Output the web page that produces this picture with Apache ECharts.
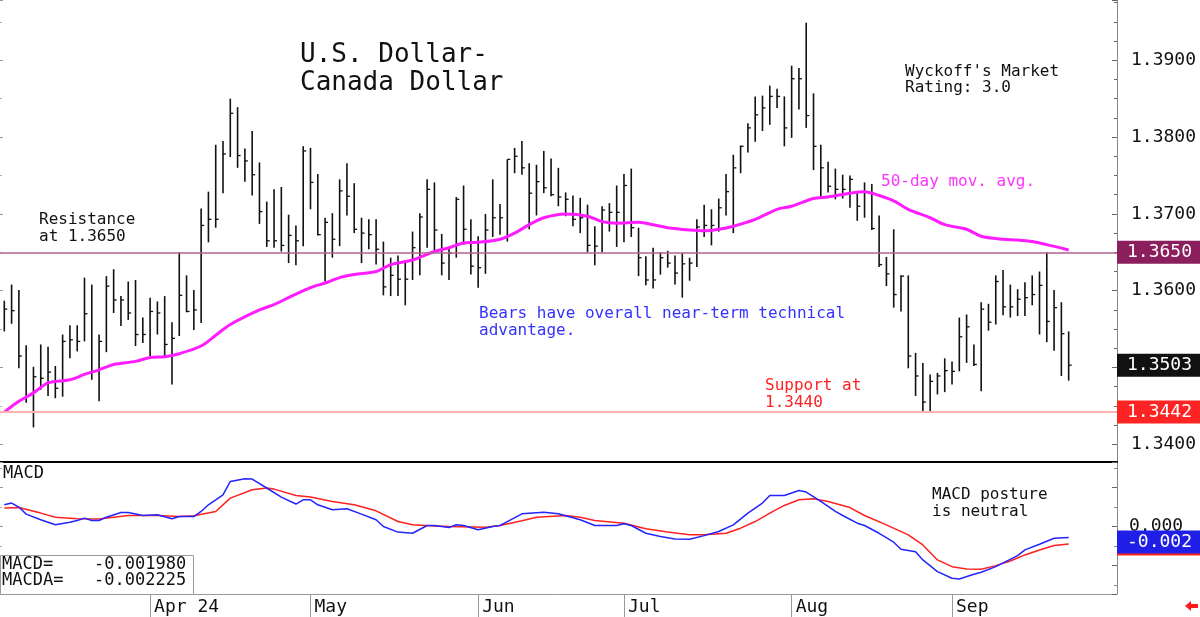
<!DOCTYPE html>
<html>
<head>
<meta charset="utf-8">
<script src="https://cdn.jsdelivr.net/npm/echarts@6/dist/echarts.min.js"></script>
<style>
  html, body { margin: 0; padding: 0; background: #fff; }
  #chart { width: 1200px; height: 617px; }
</style>
</head>
<body>
<div id="chart"></div>
<script>
// daily bars, Mar 4 .. Sep 24 (index 0..146)
var highs = [1.3587,1.3608,1.3601,1.3529,1.3501,1.3530,1.3527,1.3502,1.3543,1.3555,
  1.3555,1.3617,1.3608,1.3543,1.3619,1.3628,1.3593,1.3612,1.3614,1.3565,
  1.3591,1.3586,1.3593,1.3559,1.3650,1.3620,1.3601,1.3707,1.3729,1.3790,
  1.3795,1.3850,1.3839,1.3785,1.3808,1.3767,1.3716,1.3732,1.3735,1.3699,
  1.3685,1.3788,1.3786,1.3752,1.3695,1.3701,1.3745,1.3766,1.3740,1.3695,
  1.3693,1.3693,1.3664,1.3643,1.3646,1.3638,1.3677,1.3701,1.3745,1.3741,
  1.3674,1.3656,1.3722,1.3737,1.3693,1.3671,1.3700,1.3745,1.3713,1.3771,
  1.3786,1.3795,1.3766,1.3764,1.3782,1.3772,1.3760,1.3728,1.3724,1.3721,
  1.3712,1.3684,1.3710,1.3714,1.3737,1.3752,1.3759,1.3682,1.3645,1.3656,
  1.3650,1.3652,1.3646,1.3649,1.3643,1.3693,1.3712,1.3706,1.3720,1.3752,
  1.3777,1.3789,1.3818,1.3853,1.3854,1.3867,1.3863,1.3853,1.3893,1.3890,
  1.3949,1.3857,1.3790,1.3768,1.3759,1.3751,1.3750,1.3729,1.3741,1.3739,
  1.3698,1.3644,1.3680,1.3620,1.3620,1.3519,1.3506,1.3491,1.3493,1.3512,
  1.3508,1.3565,1.3569,1.3530,1.3585,1.3583,1.3620,1.3627,1.3608,1.3602,
  1.3611,1.3620,1.3625,1.3650,1.3601,1.3585,1.3547];
var lows = [1.3547,1.3557,1.3499,1.3454,1.3422,1.3471,1.3463,1.3460,1.3462,1.3512,
  1.3521,1.3534,1.3484,1.3456,1.3520,1.3571,1.3554,1.3562,1.3528,1.3532,
  1.3515,1.3543,1.3514,1.3478,1.3541,1.3572,1.3549,1.3558,1.3663,1.3682,
  1.3727,1.3774,1.3760,1.3742,1.3724,1.3687,1.3657,1.3656,1.3651,1.3636,
  1.3633,1.3658,1.3706,1.3672,1.3612,1.3643,1.3658,1.3698,1.3675,1.3636,
  1.3654,1.3634,1.3594,1.3593,1.3593,1.3581,1.3614,1.3620,1.3656,1.3651,
  1.3620,1.3614,1.3643,1.3660,1.3621,1.3604,1.3622,1.3670,1.3673,1.3664,
  1.3753,1.3751,1.3680,1.3698,1.3727,1.3723,1.3710,1.3697,1.3684,1.3675,
  1.3650,1.3633,1.3650,1.3677,1.3657,1.3663,1.3670,1.3619,1.3607,1.3603,
  1.3621,1.3630,1.3608,1.3591,1.3613,1.3631,1.3670,1.3659,1.3677,1.3698,
  1.3675,1.3753,1.3780,1.3794,1.3808,1.3816,1.3838,1.3788,1.3799,1.3836,
  1.3812,1.3757,1.3722,1.3728,1.3719,1.3720,1.3708,1.3691,1.3695,1.3679,
  1.3631,1.3606,1.3578,1.3573,1.3499,1.3463,1.3443,1.3443,1.3465,1.3468,
  1.3478,1.3495,1.3506,1.3502,1.3469,1.3548,1.3556,1.3568,1.3565,1.3567,
  1.3567,1.3581,1.3543,1.3533,1.3522,1.3489,1.3483];
var closes = [1.3576,1.3574,1.3515,1.3463,1.3488,1.3486,1.3494,1.3473,1.3534,1.3536,
  1.3534,1.3570,1.3494,1.3534,1.3606,1.3588,1.3588,1.3571,1.3543,1.3543,
  1.3573,1.3571,1.3530,1.3538,1.3594,1.3573,1.3575,1.3685,1.3693,1.3693,
  1.3778,1.3831,1.3776,1.3769,1.3751,1.3703,1.3665,1.3665,1.3659,1.3672,
  1.3665,1.3782,1.3741,1.3673,1.3689,1.3667,1.3730,1.3723,1.3680,1.3675,
  1.3673,1.3654,1.3605,1.3620,1.3615,1.3615,1.3656,1.3696,1.3732,1.3679,
  1.3636,1.3649,1.3719,1.3680,1.3632,1.3630,1.3679,1.3695,1.3695,1.3771,
  1.3775,1.3760,1.3727,1.3742,1.3734,1.3725,1.3722,1.3719,1.3693,1.3695,
  1.3659,1.3658,1.3705,1.3702,1.3702,1.3737,1.3682,1.3643,1.3614,1.3614,
  1.3643,1.3636,1.3623,1.3635,1.3636,1.3683,1.3685,1.3685,1.3708,1.3729,
  1.3760,1.3788,1.3812,1.3829,1.3838,1.3853,1.3853,1.3812,1.3876,1.3876,
  1.3828,1.3788,1.3760,1.3736,1.3732,1.3732,1.3745,1.3710,1.3729,1.3681,
  1.3634,1.3622,1.3595,1.3619,1.3515,1.3489,1.3455,1.3482,1.3489,1.3496,
  1.3495,1.3540,1.3553,1.3504,1.3576,1.3559,1.3612,1.3579,1.3579,1.3589,
  1.3591,1.3595,1.3607,1.3560,1.3578,1.3544,1.3503];

// 50-day moving average, read at these bar positions
var maIdx = [0,2,4,6,9,11,13,15,18,20,22,24,27,29,31,35,37,39,42,44,46,48,51,53,56,59,61,63,65,68,
  70,72,74,77,80,82,84,87,89,91,94,96,98,100,103,106,108,111,113,116,118,120,122,124,127,129,132,134,137,139,141,143,146];
var maVal = [1.3442,1.3456,1.3467,1.3480,1.3484,1.3491,1.3497,1.3504,1.3508,1.3513,1.3514,1.3518,1.3528,1.3542,1.3556,
  1.3575,1.3582,1.3591,1.3604,1.3610,1.3617,1.3621,1.3625,1.3634,1.3640,1.3651,1.3656,1.3662,1.3663,1.3667,
  1.3675,1.3686,1.3695,1.3700,1.3697,1.3690,1.3688,1.3689,1.3686,1.3682,1.3679,1.3678,1.3680,1.3684,1.3693,
  1.3706,1.3710,1.3720,1.3722,1.3727,1.3729,1.3724,1.3717,1.3706,1.3695,1.3686,1.3680,1.3671,1.3667,1.3666,
  1.3664,1.3660,1.3653];

// MACD (blue) and its average (red)
var macdIdx = [0,1,2,3,5,7,9,10,11,12,13,14,16,17,19,21,23,24,26,27,28,30,31,33,34,36,38,40,41,42,43,45,47,49,51,52,
  54,56,58,59,61,62,63,65,67,68,69,71,74,76,79,81,84,85,86,88,90,92,94,96,98,100,102,104,105,107,109,
  110,112,114,115,117,118,120,122,123,125,126,128,130,131,133,134,136,139,140,142,144,146];
var macdVal = [0.00278,0.00300,0.00249,0.00159,0.00086,0.00022,0.00056,0.00077,0.00108,0.00077,0.00077,0.00120,0.00180,0.00180,
  0.00141,0.00150,0.00099,0.00128,0.00128,0.00193,0.00278,0.00406,0.00577,0.00612,0.00607,0.00493,0.00377,0.00288,0.00342,
  0.00342,0.00278,0.00214,0.00227,0.00159,0.00086,0.00000,-0.00071,-0.00086,0.00013,0.00013,-0.00013,0.00022,0.00013,
  -0.00042,0.00000,0.00013,0.00064,0.00163,0.00184,0.00163,0.00086,0.00013,0.00013,0.00035,0.00013,-0.00086,-0.00128,
  -0.00158,-0.00163,-0.00116,-0.00064,0.00022,0.00172,0.00300,0.00398,0.00398,0.00460,
  0.00441,0.00321,0.00193,0.00141,0.00043,0.00013,-0.00086,-0.00200,-0.00290,-0.00321,-0.00427,-0.00577,-0.00662,
  -0.00671,-0.00611,-0.00585,-0.00513,-0.00372,-0.00299,-0.00226,-0.00149,-0.00141,-0.001980];
var sigIdx = [0,2,5,7,10,13,17,21,24,26,29,31,34,36,37,40,42,45,48,51,54,56,59,61,66,68,71,73,77,79,81,85,88,91,94,96,99,101,103,105,107,109,
  111,113,116,118,121,124,126,128,130,132,134,136,138,140,142,144,146];
var sigVal = [0.00236,0.00243,0.00172,0.00120,0.00099,0.00095,0.00141,0.00141,0.00128,0.00137,0.00193,0.00364,0.00471,0.00493,
  0.00479,0.00398,0.00377,0.00321,0.00278,0.00201,0.00064,0.00022,0.00008,0.00000,-0.00008,0.00013,0.00073,0.00120,0.00141,
  0.00120,0.00077,0.00043,-0.00029,-0.00071,-0.00106,-0.00106,-0.00086,-0.00021,0.00064,0.00172,0.00270,0.00342,
  0.00355,0.00321,0.00243,0.00141,0.00022,-0.00106,-0.00235,-0.00427,-0.00513,-0.00542,-0.00546,-0.00500,-0.00440,
  -0.00363,-0.00299,-0.00243,-0.002225];

var monthIdx = [20, 42, 65, 85, 108, 130];
var monthLabels = ['Apr 24', 'May', 'Jun', 'Jul', 'Aug', 'Sep'];
var resistance = 1.3650;
var support = 1.3442;

var FONT = '"DejaVu Sans Mono", monospace';

$chart = echarts.init(document.getElementById('chart'));

function pairs(xs, ys) {
  return xs.map(function (x, k) { return [x, ys[k]]; });
}

var barData = highs.map(function (h, i) { return [i, h, lows[i], closes[i]]; });

var option = {
  backgroundColor: '#fff',
  animation: false,
  grid: [
    { left: 0, top: 0, width: 1117, height: 462 },
    { left: 0, top: 462, width: 1117, height: 132 }
  ],
  xAxis: [
    { type: 'value', gridIndex: 0, min: -0.59, max: 152.63,
      axisLine: { show: true, onZero: false, lineStyle: { color: '#000', width: 2 } },
      axisTick: { show: false }, axisLabel: { show: false }, splitLine: { show: false } },
    { type: 'value', gridIndex: 1, min: -0.59, max: 152.63,
      axisLine: { show: true, onZero: false, lineStyle: { color: '#999', width: 1 } },
      axisTick: { show: true, customValues: monthIdx, length: 23, lineStyle: { color: '#999' } },
      axisLabel: { show: true, customValues: monthIdx, align: 'left', margin: 4, padding: [0, 0, 0, 4],
        fontFamily: FONT, fontSize: 18, color: '#111',
        formatter: function (v) { var k = monthIdx.indexOf(Math.round(v)); return k < 0 ? '' : monthLabels[k]; } },
      splitLine: { show: false } }
  ],
  yAxis: [
    { type: 'value', gridIndex: 0, position: 'right', min: 1.33770, max: 1.39785, splitNumber: 6,
      axisLine: { show: true, onZero: false, lineStyle: { color: '#888' } },
      axisTick: { show: true, inside: true, length: 5, lineStyle: { color: '#666' } },
      minorTick: { show: true, splitNumber: 4, length: 3, lineStyle: { color: '#666' } },
      axisLabel: { showMinLabel: false, showMaxLabel: false, margin: 14, fontFamily: FONT, fontSize: 18, color: '#111',
        formatter: function (v) { return v.toFixed(4); } },
      splitLine: { show: false } },
    { type: 'value', gridIndex: 0, position: 'left', min: 1.33770, max: 1.39785, splitNumber: 6,
      axisLine: { show: false, onZero: false },
      axisTick: { show: true, inside: true, length: 3, lineStyle: { color: '#999' } },
      minorTick: { show: true, splitNumber: 2, length: 2, lineStyle: { color: '#aaa' } },
      axisLabel: { show: false }, splitLine: { show: false } },
    { type: 'value', gridIndex: 1, position: 'right', min: -0.008628, max: 0.008256, splitNumber: 3,
      axisLine: { show: true, onZero: false, lineStyle: { color: '#888' } },
      axisTick: { show: true, inside: true, length: 5, lineStyle: { color: '#666' } },
      minorTick: { show: true, splitNumber: 2, length: 3, lineStyle: { color: '#888' } },
      axisLabel: { show: false }, splitLine: { show: false } },
    { type: 'value', gridIndex: 1, position: 'left', min: -0.008628, max: 0.008256, splitNumber: 3,
      axisLine: { show: false, onZero: false },
      axisTick: { show: true, inside: true, length: 3, lineStyle: { color: '#999' } },
      minorTick: { show: true, splitNumber: 2, length: 2, lineStyle: { color: '#aaa' } },
      axisLabel: { show: false }, splitLine: { show: false } }
  ],
  series: [
    {
      type: 'custom', xAxisIndex: 0, yAxisIndex: 0,
      data: barData,
      encode: { x: 0, y: [1, 2, 3] },
      renderItem: function (params, api) {
        var x = api.value(0);
        var hi = api.coord([x, api.value(1)]);
        var lo = api.coord([x, api.value(2)]);
        var cl = api.coord([x, api.value(3)]);
        return {
          type: 'group',
          children: [
            { type: 'line', shape: { x1: hi[0], y1: hi[1], x2: lo[0], y2: lo[1] }, style: { stroke: '#111', lineWidth: 1.6 } },
            { type: 'line', shape: { x1: cl[0], y1: cl[1], x2: cl[0] + 3, y2: cl[1] }, style: { stroke: '#111', lineWidth: 1.3 } }
          ]
        };
      }
    },
    {
      type: 'line', xAxisIndex: 0, yAxisIndex: 0,
      data: pairs(maIdx, maVal), smooth: 0.3, symbol: 'none',
      lineStyle: { color: '#ff1dff', width: 3 },
      markLine: {
        silent: true, symbol: ['none', 'none'], animation: false, precision: 4,
        label: { show: true, position: 'end', distance: 0, fontFamily: FONT, fontSize: 18, color: '#fff',
          padding: [3, 9, 2, 10], formatter: function (p) { return Number(p.value).toFixed(4); } },
        data: [
          { yAxis: resistance, lineStyle: { color: '#b2628f', width: 1.5, type: 'solid' }, label: { backgroundColor: '#8b1e5c' } },
          { yAxis: support, lineStyle: { color: '#ffb0b0', width: 2, type: 'solid' }, label: { backgroundColor: '#ff2424' } },
          { yAxis: closes[closes.length - 1], lineStyle: { color: 'rgba(0,0,0,0)' }, label: { backgroundColor: '#111' } }
        ]
      }
    },
    {
      type: 'line', xAxisIndex: 1, yAxisIndex: 2,
      data: pairs(sigIdx, sigVal), symbol: 'none',
      lineStyle: { color: '#ff2020', width: 1.5 },
      markLine: {
        silent: true, symbol: ['none', 'none'], animation: false, precision: 6,
        label: { show: true, position: 'end', distance: 0, fontFamily: FONT, fontSize: 18,
          padding: [3, 9, 2, 10], formatter: function (p) { return Number(p.value).toFixed(3); } },
        data: [
          { yAxis: 0, lineStyle: { color: 'rgba(0,0,0,0)' }, label: { color: '#111', padding: [0, 9, 8, 12] } },
          { yAxis: sigVal[sigVal.length - 1], lineStyle: { color: 'rgba(0,0,0,0)' }, label: { color: '#fff', backgroundColor: '#ff2020' } }
        ]
      }
    },
    {
      type: 'line', xAxisIndex: 1, yAxisIndex: 2,
      data: pairs(macdIdx, macdVal), symbol: 'none',
      lineStyle: { color: '#2424ff', width: 1.5 },
      markLine: {
        silent: true, symbol: ['none', 'none'], animation: false, precision: 6,
        label: { show: true, position: 'end', distance: 0, fontFamily: FONT, fontSize: 18, color: '#fff',
          padding: [3, 9, 2, 10], formatter: function (p) { return Number(p.value).toFixed(3); } },
        data: [
          { yAxis: macdVal[macdVal.length - 1], lineStyle: { color: 'rgba(0,0,0,0)' }, label: { backgroundColor: '#1f1fe8' } }
        ]
      }
    }
  ],
  graphic: [
    { type: 'text', left: 300, top: 41, style: { text: 'U.S. Dollar-\nCanada Dollar', font: '26px ' + FONT, fill: '#111', lineHeight: 28 } },
    { type: 'text', left: 905, top: 64, style: { text: "Wyckoff's Market\nRating: 3.0", font: '16px ' + FONT, fill: '#111', lineHeight: 16 } },
    { type: 'text', left: 39, top: 212, style: { text: 'Resistance\nat 1.3650', font: '16px ' + FONT, fill: '#111', lineHeight: 16.5 } },
    { type: 'text', left: 881, top: 174, style: { text: '50-day mov. avg.', font: '16px ' + FONT, fill: '#ff33ff' } },
    { type: 'text', left: 479, top: 306, style: { text: 'Bears have overall near-term technical\nadvantage.', font: '16px ' + FONT, fill: '#3333ff', lineHeight: 16.5 } },
    { type: 'text', left: 765, top: 378, style: { text: 'Support at\n1.3440', font: '16px ' + FONT, fill: '#ff2020', lineHeight: 16.5 } },
    { type: 'text', left: 3, top: 465, style: { text: 'MACD', font: '17px ' + FONT, fill: '#111' } },
    { type: 'text', left: 932, top: 486, style: { text: 'MACD posture\nis neutral', font: '16px ' + FONT, fill: '#111', lineHeight: 17 } },
    { type: 'rect', left: 0, top: 555, shape: { width: 193, height: 39 }, style: { fill: '#fff', stroke: '#999', lineWidth: 1 }, z: 10 },
    { type: 'text', left: 2, top: 556, z: 11, style: { text: 'MACD=    -0.001980\nMACDA=   -0.002225', font: '17px ' + FONT, fill: '#111', lineHeight: 16 } },
    { type: 'polygon', shape: { points: [[1185, 606], [1191, 601], [1191, 604], [1198, 604], [1198, 608], [1191, 608], [1191, 611]] }, style: { fill: '#ff1a1a' } }
  ]
};

$chart.setOption(option);
</script>
</body>
</html>
